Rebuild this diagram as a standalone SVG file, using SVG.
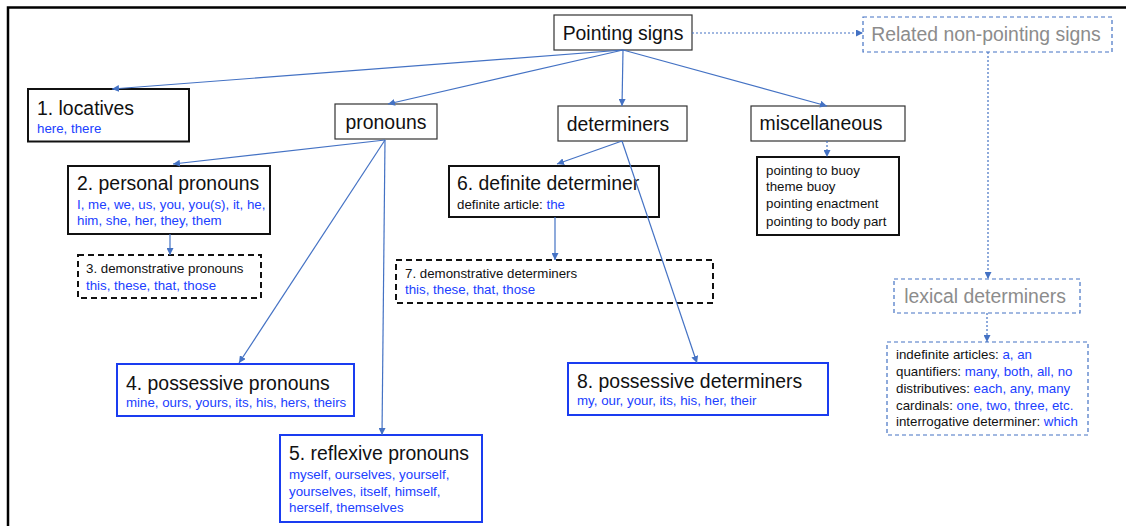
<svg xmlns="http://www.w3.org/2000/svg" width="1126" height="526" viewBox="0 0 1126 526">
<defs>
<marker id="ah" viewBox="0 0 10 10" refX="10" refY="5" markerWidth="7" markerHeight="7" markerUnits="userSpaceOnUse" orient="auto">
<path d="M0,0 L10,5 L0,10 z" fill="#4472c4"/>
</marker>
</defs>
<style>
text{font-family:"Liberation Sans",Arial,sans-serif;fill:#111}
.t{font-size:19.4px}
.s{font-size:13.3px}
.b{fill:#2040ff}
.g{fill:#8c8c8c}
.plain{fill:#fff;stroke:#333;stroke-width:1.2}
.bold{fill:#fff;stroke:#111;stroke-width:2}
.blue{fill:#fff;stroke:#1a3cf0;stroke-width:2}
.dash{fill:#fff;stroke:#111;stroke-width:2;stroke-dasharray:6 4}
.bdash{fill:#fff;stroke:#4472c4;stroke-width:1.2;stroke-dasharray:4 3}
.c{fill:none;stroke:#4472c4;stroke-width:1.2;marker-end:url(#ah)}
.d{fill:none;stroke:#4472c4;stroke-width:1.2;stroke-dasharray:2 2;marker-end:url(#ah)}
</style>
<rect width="1126" height="526" fill="#fff"/>
<path d="M8,526 V7.5 H1126" fill="none" stroke="#000" stroke-width="2.5"/>

<g id="pointing-signs">
<rect class="plain" x="554" y="15" width="138" height="35"/>
<text class="t" x="623" y="40" text-anchor="middle">Pointing signs</text>
</g>
<g id="related">
<rect class="bdash" x="863" y="17" width="249" height="35"/>
<text class="t g" x="986" y="40.5" text-anchor="middle">Related non-pointing signs</text>
</g>
<g id="lexical-determiners">
<rect class="bdash" x="894" y="279" width="186" height="34"/>
<text class="t g" x="985" y="303" text-anchor="middle">lexical determiners</text>
</g>
<g id="lexical-list">
<rect class="bdash" x="887" y="342" width="201" height="93"/>
<text class="s" x="896" y="359">indefinite articles: <tspan class="b">a, an</tspan></text>
<text class="s" x="896" y="376">quantifiers: <tspan class="b">many, both, all, no</tspan></text>
<text class="s" x="896" y="392.5">distributives: <tspan class="b">each, any, many</tspan></text>
<text class="s" x="896" y="409.5">cardinals: <tspan class="b">one, two, three, etc.</tspan></text>
<text class="s" x="896" y="426">interrogative determiner: <tspan class="b">which</tspan></text>
</g>

<g id="locatives">
<rect class="bold" x="28" y="89" width="161" height="52.5"/>
<text class="t" x="37" y="115">1. locatives</text>
<text class="s b" x="37" y="132.5">here, there</text>
</g>
<g id="pronouns">
<rect class="plain" x="335" y="104" width="102" height="35"/>
<text class="t" x="386" y="128.5" text-anchor="middle">pronouns</text>
</g>
<g id="determiners">
<rect class="plain" x="558" y="106" width="129" height="35"/>
<text class="t" x="618" y="130.5" text-anchor="middle">determiners</text>
</g>
<g id="miscellaneous">
<rect class="plain" x="751" y="106" width="154" height="35"/>
<text class="t" x="821" y="129.5" text-anchor="middle">miscellaneous</text>
</g>
<g id="misc-list">
<rect class="bold" x="757" y="157" width="142" height="78"/>
<text class="s" x="766" y="175">pointing to buoy</text>
<text class="s" x="766" y="191">theme buoy</text>
<text class="s" x="766" y="208">pointing enactment</text>
<text class="s" x="766" y="225.5">pointing to body part</text>
</g>

<g id="personal-pronouns">
<rect class="bold" x="68" y="166" width="202" height="68"/>
<text class="t" x="77" y="190">2. personal pronouns</text>
<text class="s b" x="77" y="208.5">I, me, we, us, you, you(s), it, he,</text>
<text class="s b" x="77" y="225">him, she, her, they, them</text>
</g>
<g id="demonstrative-pronouns">
<rect class="dash" x="78" y="255" width="183" height="43"/>
<text class="s" x="86" y="273">3. demonstrative pronouns</text>
<text class="s b" x="86" y="289.5">this, these, that, those</text>
</g>
<g id="possessive-pronouns">
<rect class="blue" x="117" y="364" width="237" height="52"/>
<text class="t" x="126" y="390">4. possessive pronouns</text>
<text class="s b" x="126" y="407">mine, ours, yours, its, his, hers, theirs</text>
</g>
<g id="reflexive-pronouns">
<rect class="blue" x="280" y="435" width="202" height="87"/>
<text class="t" x="289" y="460">5. reflexive pronouns</text>
<text class="s b" x="289" y="478.5">myself, ourselves, yourself,</text>
<text class="s b" x="289" y="495.5">yourselves, itself, himself,</text>
<text class="s b" x="289" y="511.5">herself, themselves</text>
</g>
<g id="definite-determiner">
<rect class="bold" x="449" y="166" width="210" height="51"/>
<text class="t" x="457" y="190">6. definite determiner</text>
<text class="s" x="457" y="208.5">definite article: <tspan class="b">the</tspan></text>
</g>
<g id="demonstrative-determiners">
<rect class="dash" x="396" y="260" width="317" height="43"/>
<text class="s" x="405" y="278">7. demonstrative determiners</text>
<text class="s b" x="405" y="294">this, these, that, those</text>
</g>
<g id="possessive-determiners">
<rect class="blue" x="568" y="363" width="260" height="52"/>
<text class="t" x="577" y="388">8. possessive determiners</text>
<text class="s b" x="577" y="404.5">my, our, your, its, his, her, their</text>
</g>

<g id="connectors">
<path class="c" d="M623,50 L112,89"/>
<path class="c" d="M623,50 L388,104"/>
<path class="c" d="M623,50 L622,106"/>
<path class="c" d="M623,50 L827,106"/>
<path class="d" d="M692,33 L863,33"/>
<path class="d" d="M988,52 L988,279"/>
<path class="d" d="M987,313 L987,342"/>
<path class="d" d="M827,141 L827,157"/>
<path class="c" d="M385,140 L173,164"/>
<path class="c" d="M385,140 L239,363"/>
<path class="c" d="M385,140 L382,435"/>
<path class="c" d="M170,234 L170,255"/>
<path class="c" d="M622,141 L557,164"/>
<path class="c" d="M622,141 L697,363"/>
<path class="c" d="M555,217 L555,260"/>
</g>
</svg>
